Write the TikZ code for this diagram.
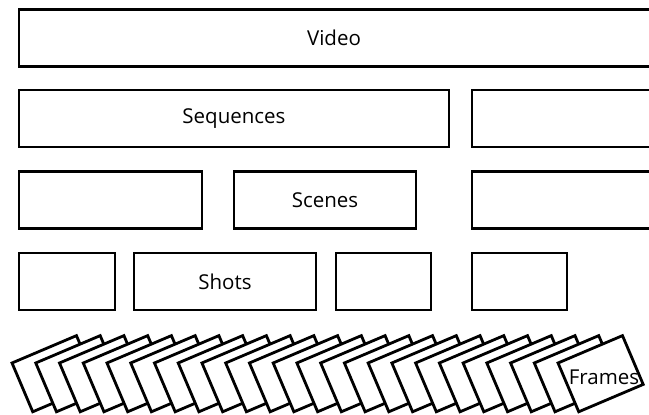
\documentclass[tikz,border=0pt]{standalone}
\usepackage{fontspec}
\setmainfont{Open Sans}
\begin{document}
\begin{tikzpicture}[x=1pt,y=-1pt,
  box/.style={draw=black,line width=2.8pt,fill=white,inner sep=0pt,outer sep=0pt,minimum height=57pt},
  lbl/.style={font=\fontsize{20.5}{24}\selectfont,text=black,inner sep=0pt},
  frm/.style={draw=black,line width=2.8pt,fill=white,rotate=23,minimum width=70pt,minimum height=53pt,inner sep=0pt,outer sep=0pt}]
\clip (0,0) rectangle (649,415);
\fill[white] (0,0) rectangle (649,415);
% row 1
\node[box,minimum width=661pt] (video) at (349.5,38) {};
\node[lbl] (videotxt) at (334,38) {Video};
% row 2
\node[box,minimum width=430pt,lbl] (seq1) at (234,118.5) {Sequences};
\node[box,minimum width=208pt] (seq2) at (576,118.5) {};
% row 3
\node[box,minimum width=183pt] (sc1) at (110.5,200) {};
\node[box,minimum width=182pt,lbl] (sc2) at (325,200) {Scenes};
\node[box,minimum width=208pt] (sc3) at (576,200) {};
% row 4
\node[box,minimum width=96pt] (sh1) at (67,281.5) {};
\node[box,minimum width=182pt,lbl] (sh2) at (225,281.5) {Shots};
\node[box,minimum width=95pt] (sh3) at (383.5,281.5) {};
\node[box,minimum width=95pt] (sh4) at (519.5,281.5) {};
% frames
\foreach \i in {0,...,23}{
  \node[frm] (f\i) at ({54.6+23.74*\i},373.7) {};
}
\node[lbl] (framestxt) at (604,377) {Frames};
\end{tikzpicture}
\end{document}
